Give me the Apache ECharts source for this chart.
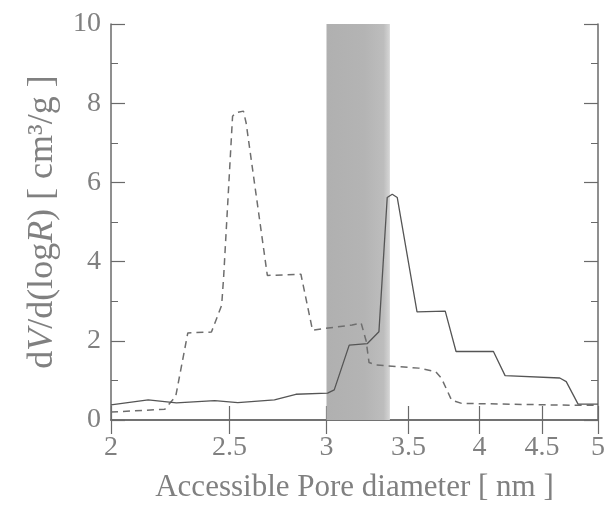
<!DOCTYPE html>
<html>
<head>
<meta charset="utf-8">
<script src="https://cdn.jsdelivr.net/npm/echarts@6/dist/echarts.min.js"></script>
<style>html,body{margin:0;padding:0;background:#fff}#c{width:608px;height:508px}</style>
</head>
<body>
<div id="c"></div>
<script>
// Pore diameter [nm] and dV/d(logR) values
var dashedX = [2.0, 2.213, 2.259, 2.311, 2.416, 2.463, 2.472, 2.514, 2.53, 2.566, 2.579, 2.684, 2.859, 2.922, 3.148, 3.202, 3.232, 3.25, 3.293, 3.568, 3.684, 3.725, 3.796, 3.868, 4.816, 5.0];
var dashedY = [0.2, 0.27, 0.6, 2.2, 2.22, 2.9, 3.6, 7.67, 7.76, 7.8, 7.5, 3.65, 3.68, 2.27, 2.4, 2.45, 2.0, 1.45, 1.39, 1.31, 1.22, 1.05, 0.5, 0.42, 0.37, 0.37];
var solidX = [2.0, 2.145, 2.262, 2.431, 2.539, 2.72, 2.832, 3.006, 3.044, 3.131, 3.24, 3.311, 3.363, 3.395, 3.427, 3.557, 3.751, 3.828, 4.107, 4.198, 4.653, 4.71, 4.816, 5.0];
var solidY = [0.38, 0.51, 0.43, 0.49, 0.44, 0.51, 0.65, 0.68, 0.76, 1.89, 1.93, 2.23, 5.62, 5.7, 5.62, 2.73, 2.75, 1.73, 1.73, 1.12, 1.06, 0.97, 0.4, 0.4];
var xTicks = [2, 2.5, 3, 3.5, 4, 4.5, 5];
var yTicks = [0, 2, 4, 6, 8, 10];
var bandStart = 3.0, bandEnd = 3.38;

var L = Math.log10;
function pts(xs, ys){ return xs.map(function(x,i){ return [L(x), ys[i]]; }); }
var xTickVals = xTicks.map(L);
var font = 'Liberation Serif';
var txt = '#808080';
var axc = '#6a6a6a';

var chart = echarts.init(document.getElementById('c'), null, {renderer:'canvas'});
var xBase = {
  type:'value', min:L(2), max:L(5),
  axisLine:{show:true, lineStyle:{color:axc, width:1.5}},
  splitLine:{show:false},
  axisTick:{show:true, inside:true, length:14, customValues:xTickVals, lineStyle:{color:axc, width:1.2}}
};
var yBase = {
  type:'value', min:yTicks[0], max:yTicks[yTicks.length-1], interval:2,
  axisLine:{show:true, lineStyle:{color:axc, width:1.5}},
  splitLine:{show:false},
  axisTick:{show:true, inside:true, length:14, lineStyle:{color:axc, width:1.2}},
  minorTick:{show:true, splitNumber:2, length:7, lineStyle:{color:axc, width:1}}
};
chart.setOption({
  animation:false,
  backgroundColor:'#fff',
  grid:{left:111, right:8, top:24, bottom:86},
  xAxis:[
    Object.assign({}, xBase, {
      position:'bottom',
      axisLabel:{show:true, customValues:xTickVals, margin:14, color:txt, fontFamily:font, fontSize:28,
        formatter:function(v){ return String(Math.round(Math.pow(10,v)*10)/10); }},
      name:'Accessible Pore diameter [ nm ]', nameLocation:'middle', nameGap:52,
      nameTextStyle:{color:txt, fontFamily:font, fontSize:31}
    }),
    Object.assign({}, xBase, {position:'top', axisLabel:{show:false}})
  ],
  yAxis:[
    Object.assign({}, yBase, {
      position:'left',
      axisLabel:{show:true, margin:10, color:txt, fontFamily:font, fontSize:28},
      name:'{a|d}{i|V}{a|/d(log}{i|R}{a|) [ cm³/g ]}', nameLocation:'middle', nameGap:50,
      nameTextStyle:{color:txt, fontFamily:font, fontSize:36,
        rich:{a:{color:txt, fontFamily:font, fontSize:36}, i:{color:txt, fontFamily:font, fontSize:36, fontStyle:'italic'}}}
    }),
    Object.assign({}, yBase, {position:'right', axisLabel:{show:false}})
  ],
  series:[
    {
      type:'line', data:pts(dashedX, dashedY), showSymbol:false, symbol:'none',
      lineStyle:{color:'#6e6e6e', width:1.5, type:[7,5]},
      markArea:{silent:true,
        itemStyle:{color:{type:'linear', x:0, y:0, x2:1, y2:0, colorStops:[
          {offset:0, color:'#b0b0b0'}, {offset:0.6, color:'#b4b4b4'}, {offset:0.9, color:'#bdbdbd'}, {offset:1, color:'#d6d6d6'}]}},
        data:[[{xAxis:L(bandStart)}, {xAxis:L(bandEnd)}]]}
    },
    {
      type:'line', data:pts(solidX, solidY), showSymbol:false, symbol:'none',
      lineStyle:{color:'#555', width:1.3}
    }
  ]
});
</script>
</body>
</html>
